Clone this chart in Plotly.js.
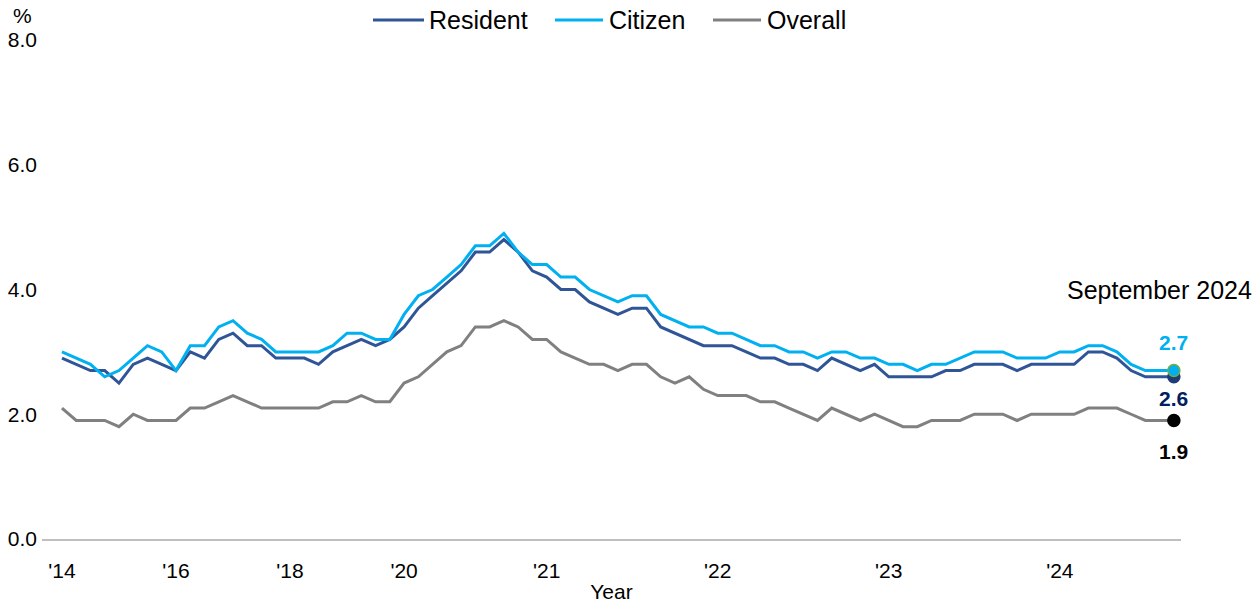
<!DOCTYPE html>
<html>
<head>
<meta charset="utf-8">
<script src="https://cdn.plot.ly/plotly-3.0.1.min.js"></script>
<style>
  html, body { margin: 0; padding: 0; background: #fff; }
  #chart { width: 1253px; height: 603px; }
</style>
</head>
<body>
<div id="chart"></div>
<script>
// Periods: quarterly to end-2019, monthly from March 2020
const periods = [
  'Mar 2014','Jun 2014','Sep 2014','Dec 2014',
  'Mar 2015','Jun 2015','Sep 2015','Dec 2015',
  'Mar 2016','Jun 2016','Sep 2016','Dec 2016',
  'Mar 2017','Jun 2017','Sep 2017','Dec 2017',
  'Mar 2018','Jun 2018','Sep 2018','Dec 2018',
  'Mar 2019','Jun 2019','Sep 2019','Dec 2019',
  'Mar 2020','Apr 2020','May 2020','Jun 2020','Jul 2020','Aug 2020','Sep 2020','Oct 2020','Nov 2020','Dec 2020',
  'Jan 2021','Feb 2021','Mar 2021','Apr 2021','May 2021','Jun 2021','Jul 2021','Aug 2021','Sep 2021','Oct 2021','Nov 2021','Dec 2021',
  'Jan 2022','Feb 2022','Mar 2022','Apr 2022','May 2022','Jun 2022','Jul 2022','Aug 2022','Sep 2022','Oct 2022','Nov 2022','Dec 2022',
  'Jan 2023','Feb 2023','Mar 2023','Apr 2023','May 2023','Jun 2023','Jul 2023','Aug 2023','Sep 2023','Oct 2023','Nov 2023','Dec 2023',
  'Jan 2024','Feb 2024','Mar 2024','Apr 2024','May 2024','Jun 2024','Jul 2024','Aug 2024','Sep 2024'
];

// Unemployment rate, %
const resident = [
  2.9, 2.8, 2.7, 2.7,
  2.5, 2.8, 2.9, 2.8,
  2.7, 3.0, 2.9, 3.2,
  3.3, 3.1, 3.1, 2.9,
  2.9, 2.9, 2.8, 3.0,
  3.1, 3.2, 3.1, 3.2,
  3.4, 3.7, 3.9, 4.1, 4.3, 4.6, 4.6, 4.8, 4.6, 4.3,
  4.2, 4.0, 4.0, 3.8, 3.7, 3.6, 3.7, 3.7, 3.4, 3.3, 3.2, 3.1,
  3.1, 3.1, 3.0, 2.9, 2.9, 2.8, 2.8, 2.7, 2.9, 2.8, 2.7, 2.8,
  2.6, 2.6, 2.6, 2.6, 2.7, 2.7, 2.8, 2.8, 2.8, 2.7, 2.8, 2.8,
  2.8, 2.8, 3.0, 3.0, 2.9, 2.7, 2.6, 2.6, 2.6
];
const citizen = [
  3.0, 2.9, 2.8, 2.6,
  2.7, 2.9, 3.1, 3.0,
  2.7, 3.1, 3.1, 3.4,
  3.5, 3.3, 3.2, 3.0,
  3.0, 3.0, 3.0, 3.1,
  3.3, 3.3, 3.2, 3.2,
  3.6, 3.9, 4.0, 4.2, 4.4, 4.7, 4.7, 4.9, 4.6, 4.4,
  4.4, 4.2, 4.2, 4.0, 3.9, 3.8, 3.9, 3.9, 3.6, 3.5, 3.4, 3.4,
  3.3, 3.3, 3.2, 3.1, 3.1, 3.0, 3.0, 2.9, 3.0, 3.0, 2.9, 2.9,
  2.8, 2.8, 2.7, 2.8, 2.8, 2.9, 3.0, 3.0, 3.0, 2.9, 2.9, 2.9,
  3.0, 3.0, 3.1, 3.1, 3.0, 2.8, 2.7, 2.7, 2.7
];
const overall = [
  2.1, 1.9, 1.9, 1.9,
  1.8, 2.0, 1.9, 1.9,
  1.9, 2.1, 2.1, 2.2,
  2.3, 2.2, 2.1, 2.1,
  2.1, 2.1, 2.1, 2.2,
  2.2, 2.3, 2.2, 2.2,
  2.5, 2.6, 2.8, 3.0, 3.1, 3.4, 3.4, 3.5, 3.4, 3.2,
  3.2, 3.0, 2.9, 2.8, 2.8, 2.7, 2.8, 2.8, 2.6, 2.5, 2.6, 2.4,
  2.3, 2.3, 2.3, 2.2, 2.2, 2.1, 2.0, 1.9, 2.1, 2.0, 1.9, 2.0,
  1.9, 1.8, 1.8, 1.9, 1.9, 1.9, 2.0, 2.0, 2.0, 1.9, 2.0, 2.0,
  2.0, 2.0, 2.1, 2.1, 2.1, 2.0, 1.9, 1.9, 1.9
];

const tickPeriods = ['Mar 2014','Mar 2016','Mar 2018','Mar 2020','Jan 2021','Jan 2022','Jan 2023','Jan 2024'];
const tickLabels = ["'14","'16","'18","'20","'21","'22","'23","'24"];
const seriesNames = ['Resident', 'Citizen', 'Overall'];
const latestLabel = 'September 2024';

const COLORS = { resident: '#2F5597', citizen: '#00B0F0', overall: '#808080' };
const FONT = 'Arial, "Liberation Sans", sans-serif';
const last = periods.length - 1;

// Plot-area geometry (pixels) used to place the key above the plot
const W = 1253, H = 603;
const M = { l: 42, r: 72, t: 40, b: 64 };
const PW = W - M.l - M.r, PH = H - M.t - M.b;
const px = v => (v - M.l) / PW;
const py = v => (H - M.b - v) / PH;

function lineTrace(name, y, color) {
  return {
    type: 'scatter', mode: 'lines', name: name,
    x: periods, y: y,
    line: { color: color, width: 3 },
    showlegend: false,
    hoverinfo: 'x+y+name'
  };
}
function endMarker(y, color, outline) {
  return {
    type: 'scatter', mode: 'markers', showlegend: false,
    x: [periods[last]], y: [y[last]],
    marker: { size: 12, color: color, line: { color: outline, width: 1.5 } },
    hoverinfo: 'skip'
  };
}

const data = [
  lineTrace(seriesNames[2], overall, COLORS.overall),
  lineTrace(seriesNames[0], resident, COLORS.resident),
  lineTrace(seriesNames[1], citizen, COLORS.citizen),
  endMarker(overall, '#000000', '#000000'),
  endMarker(resident, '#1F3C77', '#1F3C77'),
  endMarker(citizen, COLORS.citizen, '#70AD47')
];

// Key: a line sample followed by the series name, along the top
const keyItems = [
  { name: seriesNames[0], color: COLORS.resident, x0: 373, x1: 424, tx: 427 },
  { name: seriesNames[1], color: COLORS.citizen,  x0: 555, x1: 603, tx: 607 },
  { name: seriesNames[2], color: COLORS.overall,  x0: 713, x1: 761, tx: 765 }
];
const keyY = 20;

const shapes = keyItems.map(k => ({
  type: 'line', xref: 'paper', yref: 'paper',
  x0: px(k.x0), x1: px(k.x1), y0: py(keyY), y1: py(keyY),
  line: { color: k.color, width: 3 }
}));

const annotations = keyItems.map(k => ({
  xref: 'paper', yref: 'paper', x: px(k.tx), y: py(keyY),
  xanchor: 'left', yanchor: 'middle', showarrow: false, text: k.name,
  font: { family: FONT, size: 25, color: '#000000' }
})).concat([
  { xref: 'paper', yref: 'paper', x: px(22), y: py(15), text: '%',
    showarrow: false, xanchor: 'center', yanchor: 'middle',
    font: { family: FONT, size: 21, color: '#000000' } },
  { x: periods[last], y: 4.0, xref: 'x', yref: 'y', text: latestLabel,
    showarrow: false, xanchor: 'center', yanchor: 'middle', xshift: -14,
    font: { family: FONT, size: 25, color: '#000000' } },
  { x: periods[last], y: citizen[last], text: citizen[last].toFixed(1),
    showarrow: false, xanchor: 'center', yanchor: 'middle', yshift: 28,
    font: { family: FONT, size: 21, color: COLORS.citizen, weight: 'bold' } },
  { x: periods[last], y: resident[last], text: resident[last].toFixed(1),
    showarrow: false, xanchor: 'center', yanchor: 'middle', yshift: -22,
    font: { family: FONT, size: 21, color: '#002060', weight: 'bold' } },
  { x: periods[last], y: overall[last], text: overall[last].toFixed(1),
    showarrow: false, xanchor: 'center', yanchor: 'middle', yshift: -31,
    font: { family: FONT, size: 21, color: '#000000', weight: 'bold' } }
]);

const layout = {
  width: W, height: H,
  paper_bgcolor: '#ffffff', plot_bgcolor: '#ffffff',
  margin: { l: M.l, r: M.r, t: M.t, b: M.b, autoexpand: false },
  font: { family: FONT, color: '#000000', size: 21 },
  showlegend: false,
  xaxis: {
    type: 'category',
    categoryorder: 'array', categoryarray: periods,
    range: [-1.4, last + 0.5],
    tickmode: 'array', tickvals: tickPeriods, ticktext: tickLabels,
    ticks: '', ticklabelstandoff: 12,
    tickfont: { family: FONT, size: 21, color: '#000000' },
    showline: true, linecolor: '#BFBFBF', linewidth: 1.5,
    showgrid: false, zeroline: false,
    title: { text: 'Year', standoff: 4, font: { family: FONT, size: 21, color: '#000000' } }
  },
  yaxis: {
    range: [0, 8], dtick: 2, tick0: 0, tickformat: '.1f',
    ticks: '', ticklabelstandoff: 4,
    tickfont: { family: FONT, size: 21, color: '#000000' },
    showline: false, showgrid: false, zeroline: false
  },
  shapes: shapes,
  annotations: annotations
};

Plotly.newPlot('chart', data, layout, { displayModeBar: false, responsive: false });
</script>
</body>
</html>
